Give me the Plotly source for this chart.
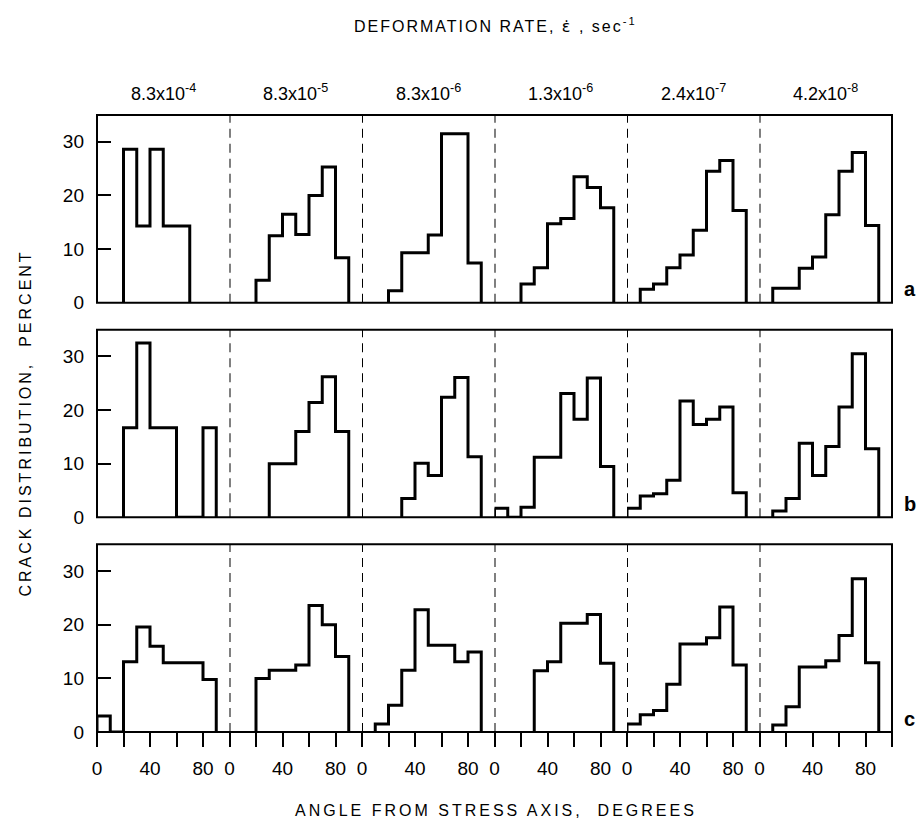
import plotly.graph_objects as go
from plotly.subplots import make_subplots

# ---------------- data ----------------
bin_edges = [0, 10, 20, 30, 40, 50, 60, 70, 80, 90]   # degrees
rates = ["8.3x10<sup>-4</sup>", "8.3x10<sup>-5</sup>", "8.3x10<sup>-6</sup>",
         "1.3x10<sup>-6</sup>", "2.4x10<sup>-7</sup>", "4.2x10<sup>-8</sup>"]
row_letters = ["a", "b", "c"]
y_tick_vals = [0, 10, 20, 30]
x_major_step = 40
x_minor_step = 20

# crack distribution (percent) per 10-degree bin, one list per deformation rate
row_a = [
    [0, 0, 28.6, 14.3, 28.6, 14.3, 14.3, 0, 0],
    [0, 0, 4.2, 12.5, 16.5, 12.7, 20.0, 25.3, 8.4],
    [0, 0, 2.2, 9.3, 9.3, 12.6, 31.5, 31.5, 7.4],
    [0, 0, 3.5, 6.5, 14.7, 15.7, 23.5, 21.5, 17.7],
    [0, 2.5, 3.5, 6.5, 8.9, 13.5, 24.5, 26.5, 17.2],
    [0, 2.7, 2.7, 6.4, 8.5, 16.4, 24.5, 28.0, 14.4],
]
row_b = [
    [0, 0, 16.7, 32.5, 16.7, 16.7, 0, 0, 16.7],
    [0, 0, 0, 10.0, 10.0, 16.0, 21.4, 26.2, 16.0],
    [0, 0, 0, 3.5, 10.1, 7.8, 22.4, 26.1, 11.3],
    [1.7, 0, 1.9, 11.2, 11.2, 23.1, 18.3, 26.0, 9.5],
    [1.7, 4.0, 4.4, 6.9, 21.7, 17.3, 18.3, 20.6, 4.6],
    [0, 1.2, 3.5, 13.8, 7.8, 13.2, 20.6, 30.5, 12.8],
]
row_c = [
    [3.0, 0, 13.1, 19.6, 16.0, 12.9, 12.9, 12.9, 9.8],
    [0, 0, 10.0, 11.5, 11.5, 12.5, 23.6, 20.0, 14.1],
    [0, 1.5, 5.0, 11.5, 22.8, 16.2, 16.2, 13.1, 14.9],
    [0, 0, 0, 11.4, 13.1, 20.3, 20.3, 21.9, 12.8],
    [1.5, 3.2, 4.0, 8.9, 16.4, 16.4, 17.6, 23.3, 12.5],
    [0, 1.3, 4.7, 12.1, 12.1, 13.3, 18.0, 28.6, 12.9],
]
rows_data = [row_a, row_b, row_c]

# ---------------- layout geometry ----------------
W, H = 918, 827
ML, MR, MT, MB = 97, 26, 115, 95
plot_h = H - MT - MB
plot_w = W - ML - MR
gap = 27
NUMFONT = "Liberation Sans, Arial, Helvetica, sans-serif"
TXTFONT = "Liberation Sans, Arial, Helvetica, sans-serif"

fig = make_subplots(rows=3, cols=6, horizontal_spacing=0,
                    vertical_spacing=gap / plot_h)

for r, rowvals in enumerate(rows_data, start=1):
    for c, vals in enumerate(rowvals, start=1):
        nz = [i for i, v in enumerate(vals) if v > 0]
        i0, i1 = nz[0], nz[-1]
        xs = [bin_edges[i0]] + bin_edges[i0:i1 + 2]
        ys = [0] + vals[i0:i1 + 1] + [0]
        fig.add_trace(go.Scatter(x=xs, y=ys, mode="lines", line_shape="hv",
                                 line=dict(color="black", width=3),
                                 showlegend=False, hoverinfo="skip"),
                      row=r, col=c)

for r in range(1, 4):
    for c in range(1, 7):
        bottom = (r == 3)
        xa = dict(range=[0, 100], showgrid=False, zeroline=False, showline=False,
                  tickmode="linear", tick0=0, dtick=x_major_step,
                  ticks="outside" if bottom else "",
                  ticklen=14, tickwidth=1.5, tickcolor="black",
                  showticklabels=bottom, ticklabelstandoff=5,
                  tickfont=dict(family=NUMFONT, size=19, color="black"))
        if bottom:
            xa["minor"] = dict(dtick=x_minor_step, tick0=0, ticks="outside",
                               ticklen=14, tickwidth=1.5, tickcolor="black",
                               showgrid=False)
        fig.update_xaxes(**xa, row=r, col=c)
        first = (c == 1)
        fig.update_yaxes(range=[0, 35], showgrid=False, zeroline=False,
                         showline=False,
                         tickvals=y_tick_vals,
                         ticks="inside" if first else "",
                         ticklen=14, tickwidth=1.5, tickcolor="black",
                         showticklabels=first, ticklabelstandoff=12,
                         tickfont=dict(family=NUMFONT, size=19, color="black"),
                         row=r, col=c)

shapes = []
for r in range(1, 4):
    n1 = (r - 1) * 6 + 1
    ydom = "y domain" if n1 == 1 else f"y{n1} domain"
    shapes.append(dict(type="rect", xref="paper", yref=ydom,
                       x0=0, x1=1, y0=0, y1=1,
                       line=dict(color="black", width=2)))
    for c in range(2, 7):
        n = (r - 1) * 6 + c
        shapes.append(dict(type="line", xref=f"x{n}", yref=f"y{n} domain",
                           x0=0, x1=0, y0=0, y1=1,
                           line=dict(color="black", width=2, dash="9px,6px")))

ann = []
def py(p):  # screen pixel y -> paper y
    return (H - MB - p) / plot_h
def px(p):  # screen pixel x -> paper x
    return (p - ML) / plot_w

SP = '<span style="letter-spacing:2px">'
EPS = '<span style="font-family:DejaVu Sans">\u03b5\u0307</span>'
ann.append(dict(text=SP + "DEFORMATION RATE, " + EPS + " , sec<sup>-1</sup></span>",
                x=px(495), y=py(26), xref="paper", yref="paper",
                showarrow=False, xanchor="center", yanchor="middle",
                font=dict(family=TXTFONT, size=16, color="black")))
for c, lab in enumerate(rates):
    ann.append(dict(text=lab, x=(c + 0.5) / 6, y=py(92), xref="paper", yref="paper",
                    showarrow=False, xanchor="center", yanchor="middle",
                    font=dict(family=NUMFONT, size=18, color="black")))
letter_y = [302, 517, 732]
for lab, yy in zip(row_letters, letter_y):
    ann.append(dict(text=f"<b>{lab}</b>", x=px(902), y=py(yy), xref="paper", yref="paper",
                    showarrow=False, xanchor="left", yanchor="bottom",
                    font=dict(family=TXTFONT, size=20, color="black")))
SP3 = '<span style="letter-spacing:3px">'
ann.append(dict(text=SP3 + "ANGLE FROM STRESS AXIS,  DEGREES</span>",
                x=px(496), y=py(810), xref="paper", yref="paper",
                showarrow=False, xanchor="center", yanchor="middle",
                font=dict(family=TXTFONT, size=16, color="black")))
ann.append(dict(text=SP3 + "CRACK DISTRIBUTION,  PERCENT</span>", textangle=-90,
                x=px(25), y=0.5, xref="paper", yref="paper",
                showarrow=False, xanchor="center", yanchor="middle",
                font=dict(family=TXTFONT, size=16, color="black")))

fig.update_layout(width=W, height=H, margin=dict(l=ML, r=MR, t=MT, b=MB),
                  plot_bgcolor="white", paper_bgcolor="white",
                  shapes=shapes, annotations=ann, showlegend=False)

fig.write_html("out.html", config={"displayModeBar": False},
               post_script="document.body.style.margin='0px';document.body.style.overflow='hidden';")
